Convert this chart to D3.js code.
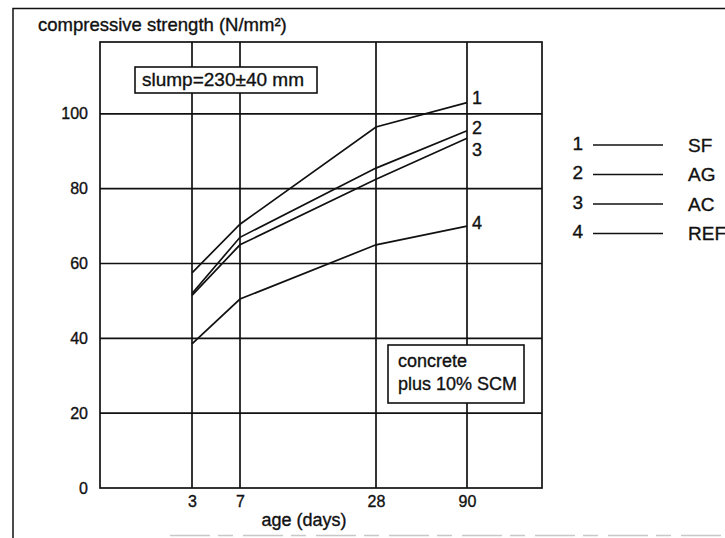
<!DOCTYPE html>
<html><head><meta charset="utf-8">
<script src="https://cdn.jsdelivr.net/npm/d3@7"></script>
<style>
html,body{margin:0;padding:0;background:#fff;}
text{font-family:"Liberation Sans",Arial,Helvetica,sans-serif;fill:#111;stroke:#111;stroke-width:0.35px;}
</style></head>
<body>
<script>
const days = [3, 7, 28, 90];
const seriesNames = ["SF", "AG", "AC", "REF"];
const seriesNumbers = ["1", "2", "3", "4"];
const SF  = [57.5, 70.5, 96.5, 103];
const AG  = [52, 67, 85.5, 95.5];
const AC  = [51.5, 65, 82.5, 93.5];
const REF = [38.5, 50.5, 65, 70];
const yTicks = [0, 20, 40, 60, 80, 100];
const xTickLabels = ["3", "7", "28", "90"];
const yTitle = "compressive strength (N/mm²)";
const xTitle = "age (days)";
const note1 = "slump=230±40 mm";
const note2 = ["concrete", "plus 10% SCM"];

const series = [SF, AG, AC, REF];

(function () {
const W = 725, H = 538;
const svg = d3.select("body").append("svg").attr("width", W).attr("height", H);

const pLeft = 100, pRight = 542, pTop = 42, pBottom = 488;
const x = d3.scaleLinear().domain([0, 3, 7, 28, 90, 120]).range([pLeft, 192, 240, 376, 467, pRight]);
const y = d3.scaleLinear().domain([0, 119.2]).range([pBottom, pTop]);

// outer frame (cropped)
svg.append("path").attr("d", `M13,538 L13,8.5 L725,8.5`).attr("fill", "none").attr("stroke", "#111").attr("stroke-width", 1.5);
svg.append("line").attr("x1", 170).attr("x2", 725).attr("y1", 535.5).attr("y2", 535.5)
  .attr("stroke", "#c8c8c8").attr("stroke-width", 1.5).attr("stroke-dasharray", "40,8,15,10");

// gridlines
const g = svg.append("g");
g.selectAll("line.hg").data(yTicks.filter(d => d > 0)).join("line").attr("class", "hg")
  .attr("x1", pLeft).attr("x2", pRight).attr("y1", d => y(d)).attr("y2", d => y(d))
  .attr("stroke", "#111").attr("stroke-width", 1.7);
g.selectAll("line.vg").data(days).join("line").attr("class", "vg")
  .attr("x1", d => x(d)).attr("x2", d => x(d)).attr("y1", pTop).attr("y2", pBottom)
  .attr("stroke", "#111").attr("stroke-width", 1.7);
g.append("rect").attr("x", pLeft).attr("y", pTop).attr("width", pRight - pLeft).attr("height", pBottom - pTop)
  .attr("fill", "none").attr("stroke", "#111").attr("stroke-width", 1.7);

// axes via d3 axis (labels only)
const yAxis = d3.axisLeft(y).tickValues(yTicks).tickSize(0).tickPadding(12);
const ya = svg.append("g").attr("transform", `translate(${pLeft},0)`).call(yAxis);
ya.attr("font-family", null).attr("font-size", null);
ya.select(".domain").remove();
ya.selectAll("text").style("font-size", "16px").attr("fill", "#111");

const xAxis = d3.axisBottom(x).tickValues(days).tickFormat((d, i) => xTickLabels[i]).tickSize(0).tickPadding(8);
const xa = svg.append("g").attr("transform", `translate(0,${pBottom})`).call(xAxis);
xa.attr("font-family", null).attr("font-size", null);
xa.select(".domain").remove();
xa.selectAll("text").style("font-size", "16px").attr("fill", "#111");

// titles
svg.append("text").attr("x", 38).attr("y", 31).style("font-size", "18.5px").text(yTitle);
svg.append("text").attr("x", 304).attr("y", 526).attr("text-anchor", "middle").style("font-size", "18px").text(xTitle);

// series lines
const line = d3.line().x((d, i) => x(days[i])).y(d => y(d));
svg.selectAll("path.s").data(series).join("path").attr("class", "s")
  .attr("d", d => line(d)).attr("fill", "none").attr("stroke", "#111").attr("stroke-width", 1.7);

// end labels
const endOffsets = [-5, -3, 12, -3];
svg.selectAll("text.end").data(series).join("text").attr("class", "end")
  .attr("x", x(90) + 5).attr("y", (d, i) => y(d[d.length - 1]) + endOffsets[i])
  .attr("dy", "0.35em").style("font-size", "18px").text((d, i) => seriesNumbers[i]);

// slump box
const sb = svg.append("g");
sb.append("rect").attr("x", 135).attr("y", 67).attr("width", 182).attr("height", 26)
  .attr("fill", "#fff").attr("stroke", "#111").attr("stroke-width", 1.6);
sb.append("text").attr("x", 142).attr("y", 86).style("font-size", "19px").text(note1);

// concrete box
const cb = svg.append("g");
cb.append("rect").attr("x", 388).attr("y", 345).attr("width", 136).attr("height", 58)
  .attr("fill", "#fff").attr("stroke", "#111").attr("stroke-width", 1.6);
cb.selectAll("text").data(note2).join("text")
  .attr("x", 398).attr("y", (d, i) => 367 + i * 23).style("font-size", "18px").text(d => d);

// legend
const lg = svg.append("g");
const legY = i => 143 + i * 29.5;
lg.selectAll("text.num").data(seriesNumbers).join("text").attr("class", "num")
  .attr("x", 583).attr("y", (d, i) => legY(i)).attr("dy", "0.35em").attr("text-anchor", "end")
  .style("font-size", "19px").text(d => d);
lg.selectAll("line.leg").data(seriesNames).join("line").attr("class", "leg")
  .attr("x1", 593).attr("x2", 663).attr("y1", (d, i) => legY(i) + 2).attr("y2", (d, i) => legY(i) + 2)
  .attr("stroke", "#111").attr("stroke-width", 1.6);
lg.selectAll("text.name").data(seriesNames).join("text").attr("class", "name")
  .attr("x", 688).attr("y", (d, i) => legY(i) + 2).attr("dy", "0.35em")
  .style("font-size", "19px").text(d => d);
})();
</script>
</body></html>
